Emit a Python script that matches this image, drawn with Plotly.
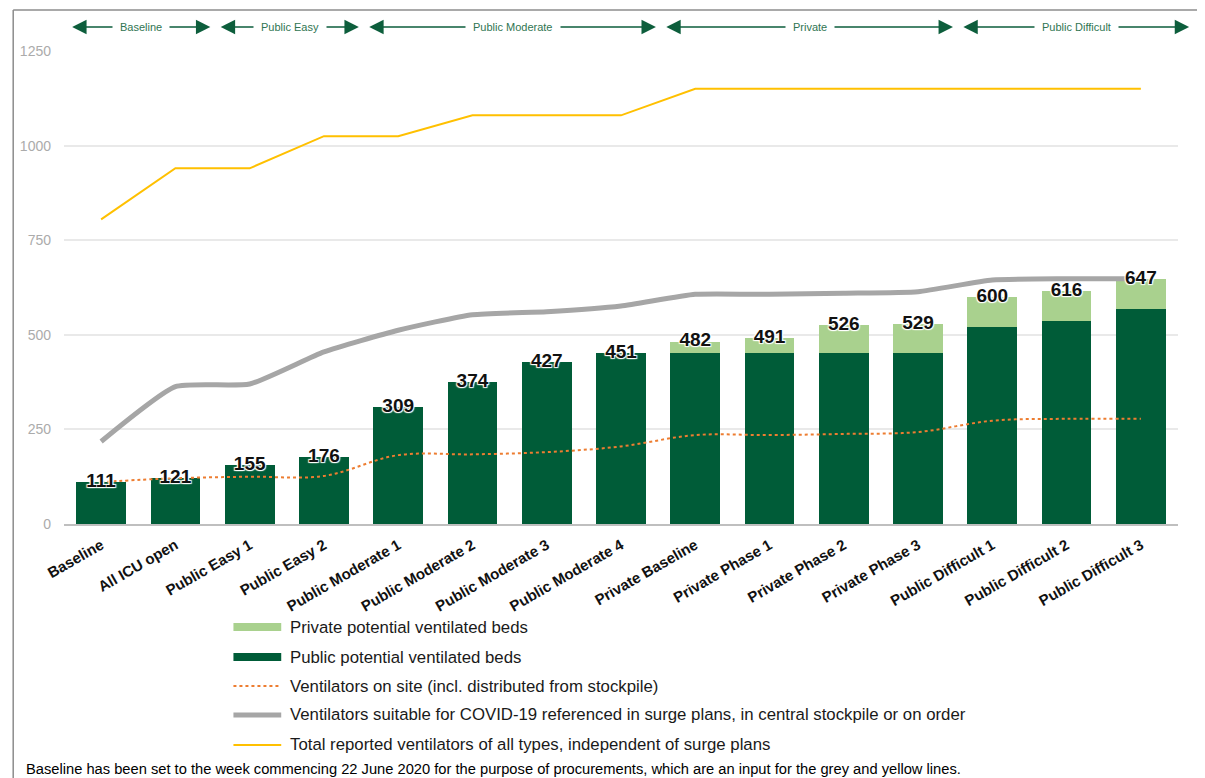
import plotly.graph_objects as go

categories = ["Baseline", "All ICU open", "Public Easy 1", "Public Easy 2",
              "Public Moderate 1", "Public Moderate 2", "Public Moderate 3", "Public Moderate 4",
              "Private Baseline", "Private Phase 1", "Private Phase 2", "Private Phase 3",
              "Public Difficult 1", "Public Difficult 2", "Public Difficult 3"]

public_beds = [111, 121, 155, 176, 309, 374, 427, 451, 451, 451, 451, 451, 520, 536, 567]
private_beds = [0, 0, 0, 0, 0, 0, 0, 0, 31, 40, 75, 78, 80, 80, 80]
vent_on_site = [111, 121, 125, 127, 182, 184, 190, 205, 235, 235, 238, 243, 273, 278, 278]
vent_surge = [218, 363, 370, 455, 512, 553, 561, 576, 607, 607, 610, 614, 645, 648, 648]
vent_total = [805, 940, 940, 1025, 1025, 1080, 1080, 1080, 1150, 1150, 1150, 1150, 1150, 1150, 1150]

y_ticks = [0, 250, 500, 750, 1000, 1250]

group_names = ["Baseline", "Public Easy", "Public Moderate", "Private", "Public Difficult"]
group_first = [0, 2, 4, 8, 12]
group_last = [1, 3, 7, 11, 14]

series_names = ["Private potential ventilated beds",
                "Public potential ventilated beds",
                "Ventilators on site (incl. distributed from stockpile)",
                "Ventilators suitable for COVID-19 referenced in surge plans, in central stockpile or on order",
                "Total reported ventilators of all types, independent of surge plans"]

footnote = ("Baseline has been set to the week commencing 22 June 2020 for the purpose of "
            "procurements, which are an input for the grey and yellow lines.")

DARK = "#005c38"
LIGHT = "#a9d18e"
ORANGE = "#ed7d31"
GREY = "#a6a6a6"
YELLOW = "#ffc000"
ARROW = "#0d5e3c"
FONT = "Liberation Sans, Arial, sans-serif"

totals = [a + b for a, b in zip(public_beds, private_beds)]

fig = go.Figure()
fig.add_trace(go.Bar(x=categories, y=public_beds, name=series_names[1],
                     marker=dict(color=DARK, line=dict(width=0))))
fig.add_trace(go.Bar(x=categories, y=private_beds, name=series_names[0],
                     marker=dict(color=LIGHT, line=dict(width=0))))
fig.add_trace(go.Scatter(x=categories, y=vent_on_site, name=series_names[2], mode="lines",
                         line=dict(color=ORANGE, width=2, dash="dot", shape="spline")))
fig.add_trace(go.Scatter(x=categories, y=vent_surge, name=series_names[3], mode="lines",
                         line=dict(color=GREY, width=5, shape="spline", smoothing=0.5)))
fig.add_trace(go.Scatter(x=categories, y=vent_total, name=series_names[4], mode="lines",
                         line=dict(color=YELLOW, width=2)))
fig.add_trace(go.Scatter(x=categories, y=totals, mode="text", text=[str(t) for t in totals],
                         textposition="middle center", cliponaxis=False, showlegend=False,
                         textfont=dict(family=FONT, size=19, color="#111111", weight="bold",
                                       shadow="1px 1px 1px #fff, -1px -1px 1px #fff, 1px -1px 1px #fff, -1px 1px 1px #fff"),
                         hoverinfo="skip"))

annotations = []
shapes = []
arrow_y = 1.0507
spans = []
for first, last in zip(group_first, group_last):
    left = first - 0.39
    right = last + (0.65 if last == len(categories) - 1 else 0.47)
    spans.append((left, right, (left + right) / 2))
for left, right, center in spans:
    for end in (left, right):
        annotations.append(dict(x=end, y=arrow_y, xref="x", yref="paper",
                                ax=center, ay=0, axref="x", ayref="pixel",
                                text="", showarrow=True, arrowhead=2, arrowsize=1.8,
                                arrowwidth=1.6, arrowcolor=ARROW))
for name, (left, right, center) in zip(group_names, spans):
    annotations.append(dict(x=center, y=arrow_y, xref="x", yref="paper", text=name,
                            showarrow=False, bgcolor="white", borderpad=7,
                            xanchor="center", yanchor="middle",
                            font=dict(family=FONT, size=11, color="#2f7552")))

# manual legend
leg_y = [-0.2178, -0.2812, -0.3425, -0.4038, -0.4672]
leg_styles = [dict(color=LIGHT, width=8), dict(color=DARK, width=8),
              dict(color=ORANGE, width=2, dash="dot"), dict(color=GREY, width=5),
              dict(color=YELLOW, width=2)]
for y, name, st in zip(leg_y, series_names, leg_styles):
    shapes.append(dict(type="line", xref="paper", yref="paper", x0=0.1521, x1=0.195,
                       y0=y, y1=y, line=st))
    annotations.append(dict(x=0.2013, y=y, xref="paper", yref="paper", text=name,
                            showarrow=False, xanchor="left", yanchor="middle",
                            font=dict(family=FONT, size=16.8, color="#1a1a1a")))

annotations.append(dict(x=-0.0358, y=-0.518, xref="paper", yref="paper", text=footnote,
                        showarrow=False, xanchor="left", yanchor="middle",
                        font=dict(family=FONT, size=14.7, color="#000000")))

# outer frame
shapes.append(dict(type="line", xref="paper", yref="paper", x0=-0.0456, x1=-0.0456,
                   y0=-0.6, y1=1.0867, line=dict(color="#8c8c8c", width=1.5)))
shapes.append(dict(type="line", xref="paper", yref="paper", x0=-0.0456, x1=1.03,
                   y0=1.0867, y1=1.0867, line=dict(color="#8c8c8c", width=1.5)))

fig.update_layout(
    width=1197, height=770,
    margin=dict(l=52, r=27, t=43, b=254),
    barmode="stack", bargap=0.33,
    plot_bgcolor="white", paper_bgcolor="white",
    showlegend=False,
    font=dict(family=FONT),
    annotations=annotations, shapes=shapes,
    xaxis=dict(type="category", range=[-0.5, len(categories) - 0.5], tickangle=-30,
               showgrid=False, showline=True, linecolor="#bfbfbf", linewidth=1.5,
               ticks="", ticklabelstandoff=5,
               tickfont=dict(family=FONT, size=15, color="#111111", weight="bold")),
    yaxis=dict(range=[0, 1250], tickvals=y_ticks, showgrid=True, gridcolor="#e9e9e9",
               gridwidth=1.5, zeroline=False, showline=False, ticks="",
               ticklabelstandoff=12,
               tickfont=dict(family=FONT, size=14, color="#ababab")),
)

fig.write_html("out.html")
